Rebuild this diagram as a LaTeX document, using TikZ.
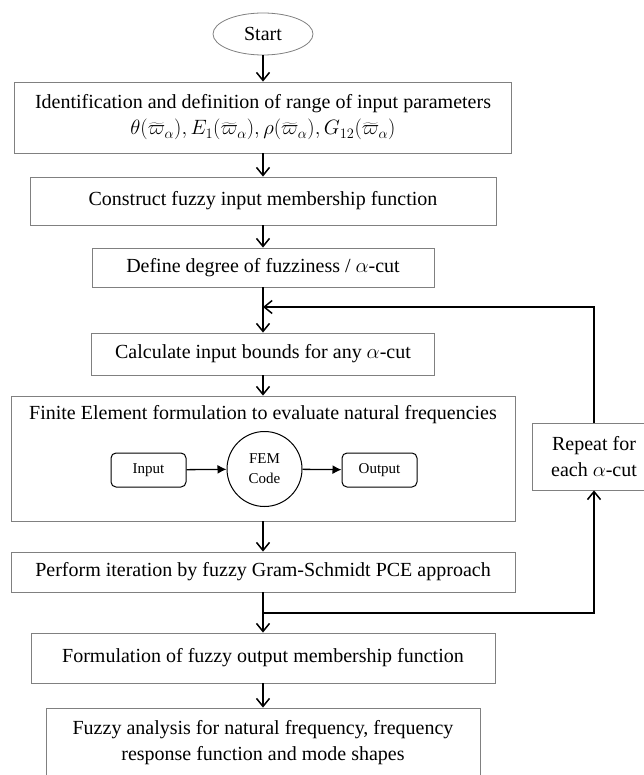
\documentclass[tikz,border=0pt]{standalone}
\usepackage{fontspec}
\setmainfont{Liberation Serif}
\usetikzlibrary{arrows.meta,shapes.geometric}
\tikzset{
  box/.style={draw=black!50, line width=0.8pt, inner sep=0pt, align=center,
    font=\fontsize{20}{26}\selectfont},
  term/.style={box, ellipse, minimum width=100pt, minimum height=42pt},
  part/.style={draw, line width=1pt, rounded corners=5pt, minimum width=75pt,
    minimum height=34pt, inner sep=0pt, font=\fontsize{15}{20}\selectfont},
  solver/.style={part, circle, minimum size=75pt, align=center},
  flow/.style={-{Straight Barb[length=8pt,width=13pt]}, line width=1.5pt},
  link/.style={-{Latex[length=9pt,width=9pt]}, line width=1.3pt}
}
\begin{document}
\begin{tikzpicture}[x=1pt,y=-1pt]
      \useasboundingbox (0,0) rectangle (643,775);
      \draw
        (263,34) node[term] (start){Start}
        (263,117.5) node[box, minimum width=497pt, minimum height=71pt] (ident)
          {Identification and definition of range of input parameters\\
           $\theta(\widetilde{\varpi}_\alpha), E_1(\widetilde{\varpi}_\alpha),
            \rho(\widetilde{\varpi}_\alpha), G_{12}(\widetilde{\varpi}_\alpha)$}
        (263,201) node[box, minimum width=466pt, minimum height=48pt] (construct)
          {Construct fuzzy input membership function}
        (263,267.5) node[box, minimum width=342pt, minimum height=39pt] (define)
          {Define degree of fuzziness / $\alpha$-cut}
        (263,354) node[box, minimum width=343pt, minimum height=42pt] (calc)
          {Calculate input bounds for any $\alpha$-cut}
        (263,458.5) node[box, minimum width=504pt, minimum height=125pt] (fem){}
        (263,415) node[font=\fontsize{20}{26}\selectfont] (femtitle)
          {Finite Element formulation to evaluate natural frequencies}
        (148.5,470) node[part] (input){Input}
        (264.5,469) node[solver] (code){FEM\\Code}
        (379.5,470) node[part] (output){Output}
        (594,456.5) node[box, minimum width=124pt, minimum height=67pt] (repeat)
          {Repeat for\\each $\alpha$-cut}
        (263,572) node[box, minimum width=504pt, minimum height=40pt] (perform)
          {Perform iteration by fuzzy Gram-Schmidt PCE approach}
        (263,658) node[box, minimum width=464pt, minimum height=50pt] (formul)
          {Formulation of fuzzy output membership function}
        (263,743) node[box, minimum width=434pt, minimum height=70pt] (fuzzy)
          {Fuzzy analysis for natural frequency, frequency\\
           response function and mode shapes};
      \coordinate (merge) at (263,307);
      \coordinate (split) at (263,613);
      \begin{scope}[flow]
        \draw (start) to (ident);
        \draw (ident) to (construct);
        \draw (construct) to (define);
        \draw (define) to (calc);
        \draw (calc) to (fem);
        \draw (fem) to (perform);
        \draw (perform) to (formul);
        \draw (formul) to (fuzzy);
        \draw (split) -| (repeat);
        \draw (repeat) |- (merge);
      \end{scope}
      \begin{scope}[link]
        \draw (input) to (code);
        \draw (code) to (output);
      \end{scope}
    \end{tikzpicture}
\end{document}
